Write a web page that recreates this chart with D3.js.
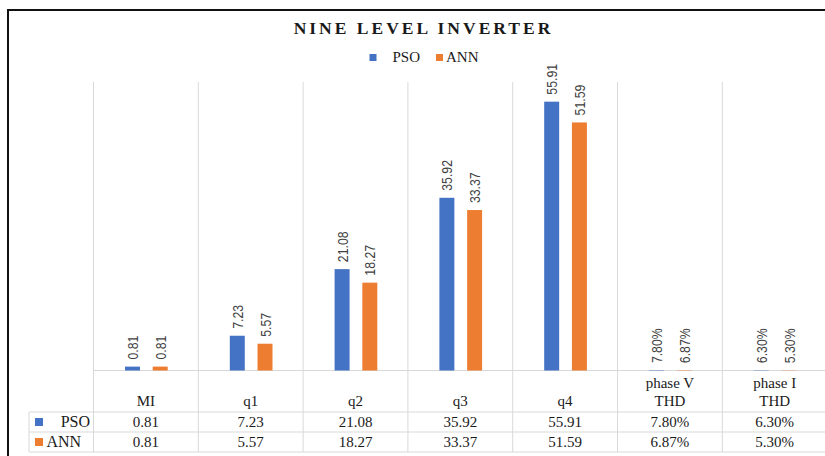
<!DOCTYPE html>
<html>
<head>
<meta charset="utf-8">
<script src="https://cdn.jsdelivr.net/npm/d3@7"></script>
<style>
  html, body { margin: 0; padding: 0; background: #fff; }
  svg { display: block; }
</style>
</head>
<body>
<svg id="chart" width="825" height="456"></svg>
<script>
// Category labels (second line used for the THD rows)
const categories = ["MI", "q1", "q2", "q3", "q4", "phase V THD", "phase I THD"];
const categoryLines = [["MI"], ["q1"], ["q2"], ["q3"], ["q4"], ["phase V", "THD"], ["phase I", "THD"]];
const seriesNames = ["PSO", "ANN"];
const psoValues = [0.81, 7.23, 21.08, 35.92, 55.91, 0.078, 0.063];
const annValues = [0.81, 5.57, 18.27, 33.37, 51.59, 0.0687, 0.053];
// THD rows are shown as percentages
const isPercent = [false, false, false, false, false, true, true];
const yDomain = [0, 60];
const colors = { PSO: "#4472C4", ANN: "#ED7D31" };

const seriesValues = { PSO: psoValues, ANN: annValues };
const fmt = (v, i) => isPercent[i] ? d3.format(".2%")(v) : d3.format(".2f")(v);

const svg = d3.select("#chart");
const W = 825, H = 456;
const plotLeft = 93.5, colW = 104.8;
const plotTop = 82, plotBottom = 370.5;
const tableRows = [412, 432, 452];
const tableLeft = 29;

const x = d3.scaleBand().domain(categories).range([plotLeft, plotLeft + colW * categories.length]).paddingInner(0).paddingOuter(0);
const xs = d3.scaleBand().domain(seriesNames).range([31.5, 74.2]).paddingInner(0.46).paddingOuter(0);
const y = d3.scaleLinear().domain(yDomain).range([plotBottom, plotTop]);

const grid = "#d9d9d9";
const serif = "'Liberation Serif', 'Times New Roman', serif";
const sans = "'Liberation Sans', Arial, sans-serif";

svg.append("rect").attr("width", W).attr("height", H).attr("fill", "#fff");

// Vertical category separators running through the plot and the data table
const bounds = categories.map(c => x(c)).concat([x(categories[categories.length - 1]) + x.bandwidth()]);
svg.append("g").selectAll("line").data(bounds).join("line")
  .attr("x1", d => d).attr("x2", d => d)
  .attr("y1", plotTop).attr("y2", tableRows[2])
  .attr("stroke", grid).attr("stroke-width", 1);

// Table horizontal rules
svg.append("line").attr("x1", plotLeft).attr("x2", W).attr("y1", plotBottom).attr("y2", plotBottom).attr("stroke", grid);
svg.append("g").selectAll("line").data(tableRows).join("line")
  .attr("x1", tableLeft).attr("x2", W).attr("y1", d => d).attr("y2", d => d)
  .attr("stroke", grid);
svg.append("line").attr("x1", tableLeft).attr("x2", tableLeft).attr("y1", tableRows[0]).attr("y2", tableRows[2]).attr("stroke", grid);

// Bars
const barData = [];
categories.forEach((c, i) => seriesNames.forEach(s => barData.push({ c, i, s, v: seriesValues[s][i] })));

svg.append("g").selectAll("rect").data(barData).join("rect")
  .attr("x", d => x(d.c) + xs(d.s))
  .attr("width", xs.bandwidth())
  .attr("y", d => y(d.v))
  .attr("height", d => y(0) - y(d.v))
  .attr("fill", d => colors[d.s]);

// Rotated value labels above each bar, condensed along the reading direction
svg.append("g").selectAll("text").data(barData).join("text")
  .attr("transform", d => `translate(${x(d.c) + xs(d.s) + xs.bandwidth() / 2 + 5.5}, ${y(d.v) - 7}) rotate(-90) scale(0.82,1)`)
  .attr("font-family", sans).attr("font-size", 15).attr("fill", "#404040")
  .text(d => fmt(d.v, d.i));

// Category header cells
const hdr = svg.append("g").selectAll("text").data(categoryLines).join("text")
  .attr("x", (d, i) => x(categories[i]) + x.bandwidth() / 2)
  .attr("text-anchor", "middle")
  .attr("font-family", serif).attr("font-size", 15).attr("fill", "#1a1a1a");
hdr.each(function (lines) {
  const t = d3.select(this);
  const baseY = 406 - (lines.length - 1) * 18;
  lines.forEach((ln, k) => t.append("tspan").attr("x", t.attr("x")).attr("y", baseY + k * 18).text(ln));
});

// Data table value rows
seriesNames.forEach((s, r) => {
  const rowY = tableRows[r] + 15;
  svg.append("g").selectAll("text").data(seriesValues[s]).join("text")
    .attr("x", (d, i) => x(categories[i]) + x.bandwidth() / 2)
    .attr("y", rowY)
    .attr("text-anchor", "middle")
    .attr("font-family", serif).attr("font-size", 15).attr("fill", "#1a1a1a")
    .text((d, i) => fmt(d, i));
});

// Legend keys inside the table
svg.append("rect").attr("x", 35).attr("y", 418).attr("width", 8).attr("height", 8).attr("fill", colors.PSO);
svg.append("text").attr("x", 90).attr("y", 427).attr("text-anchor", "end")
  .attr("font-family", serif).attr("font-size", 16).attr("fill", "#1a1a1a").text("PSO");
svg.append("rect").attr("x", 35).attr("y", 438).attr("width", 8).attr("height", 8).attr("fill", colors.ANN);
svg.append("text").attr("x", 46.5).attr("y", 447)
  .attr("font-family", serif).attr("font-size", 16).attr("fill", "#1a1a1a").text("ANN");

// Title
svg.append("text").attr("x", 423.5).attr("y", 34).attr("text-anchor", "middle")
  .attr("font-family", serif).attr("font-weight", "bold").attr("font-size", 17.5)
  .attr("letter-spacing", 3).attr("fill", "#1a1a1a").text("NINE LEVEL INVERTER");

// Legend
const leg = svg.append("g");
leg.append("rect").attr("x", 369.5).attr("y", 54).attr("width", 7).attr("height", 7).attr("fill", colors.PSO);
leg.append("text").attr("x", 392.5).attr("y", 62).attr("font-family", serif).attr("font-size", 15).attr("fill", "#1a1a1a").text("PSO");
leg.append("rect").attr("x", 436).attr("y", 54).attr("width", 7).attr("height", 7).attr("fill", colors.ANN);
leg.append("text").attr("x", 446).attr("y", 62).attr("font-family", serif).attr("font-size", 15).attr("fill", "#1a1a1a").text("ANN");

// Outer frame (continues past the right and bottom edges)
svg.append("path").attr("d", `M8,${H + 5} L8,10 L${W + 5},10`)
  .attr("fill", "none").attr("stroke", "#111").attr("stroke-width", 2);
</script>
</body>
</html>
